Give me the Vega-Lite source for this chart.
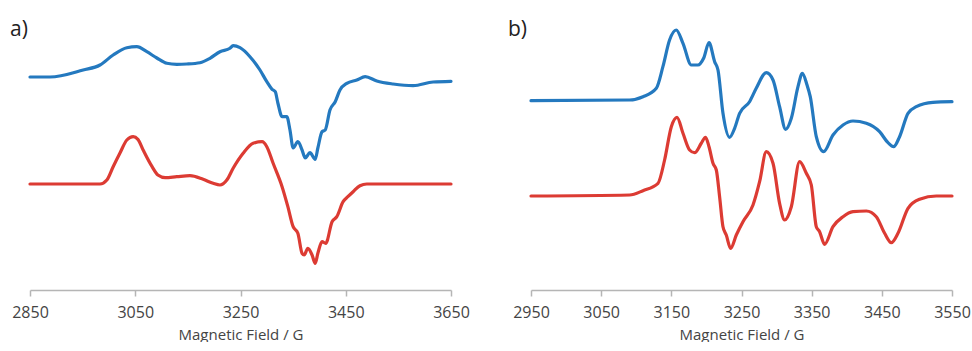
{
  "$schema": "https://vega.github.io/schema/vega-lite/v6.json",
  "padding": {"left": 10, "top": 19, "right": 5, "bottom": 0},
  "background": "white",
  "config": {
    "view": {"stroke": null},
    "font": "Open Sans",
    "axis": {"grid": false}
  },
  "spacing": 80,
  "bounds": "flush",
  "datasets": {
    "spectra": [
      {"panel":"a","series":"blue","field":2850,"signal":213},
      {"panel":"a","series":"blue","field":2888,"signal":213},
      {"panel":"a","series":"blue","field":2951,"signal":220},
      {"panel":"a","series":"blue","field":2983,"signal":225},
      {"panel":"a","series":"blue","field":3008,"signal":235},
      {"panel":"a","series":"blue","field":3034,"signal":242.3},
      {"panel":"a","series":"blue","field":3053,"signal":243.3},
      {"panel":"a","series":"blue","field":3072,"signal":238.3},
      {"panel":"a","series":"blue","field":3091,"signal":232},
      {"panel":"a","series":"blue","field":3110,"signal":226.7},
      {"panel":"a","series":"blue","field":3129,"signal":225.7},
      {"panel":"a","series":"blue","field":3148,"signal":226},
      {"panel":"a","series":"blue","field":3173,"signal":227.3},
      {"panel":"a","series":"blue","field":3192,"signal":231.7},
      {"panel":"a","series":"blue","field":3211,"signal":238.3},
      {"panel":"a","series":"blue","field":3230,"signal":241.7},
      {"panel":"a","series":"blue","field":3236,"signal":244.3},
      {"panel":"a","series":"blue","field":3249,"signal":242.3},
      {"panel":"a","series":"blue","field":3268,"signal":233.3},
      {"panel":"a","series":"blue","field":3287,"signal":220},
      {"panel":"a","series":"blue","field":3300,"signal":208.3},
      {"panel":"a","series":"blue","field":3310,"signal":200.7},
      {"panel":"a","series":"blue","field":3316,"signal":198.3},
      {"panel":"a","series":"blue","field":3321,"signal":187},
      {"panel":"a","series":"blue","field":3329,"signal":173.3},
      {"panel":"a","series":"blue","field":3338,"signal":173.3},
      {"panel":"a","series":"blue","field":3344,"signal":160},
      {"panel":"a","series":"blue","field":3350,"signal":142},
      {"panel":"a","series":"blue","field":3359,"signal":148.3},
      {"panel":"a","series":"blue","field":3367,"signal":140},
      {"panel":"a","series":"blue","field":3373,"signal":132},
      {"panel":"a","series":"blue","field":3382,"signal":137.3},
      {"panel":"a","series":"blue","field":3392,"signal":130.7},
      {"panel":"a","series":"blue","field":3397,"signal":142},
      {"panel":"a","series":"blue","field":3405,"signal":158.3},
      {"panel":"a","series":"blue","field":3411,"signal":160},
      {"panel":"a","series":"blue","field":3420,"signal":180},
      {"panel":"a","series":"blue","field":3430,"signal":188.3},
      {"panel":"a","series":"blue","field":3439,"signal":200},
      {"panel":"a","series":"blue","field":3452,"signal":206.7},
      {"panel":"a","series":"blue","field":3471,"signal":210},
      {"panel":"a","series":"blue","field":3487,"signal":213.3},
      {"panel":"a","series":"blue","field":3509,"signal":209},
      {"panel":"a","series":"blue","field":3540,"signal":206},
      {"panel":"a","series":"blue","field":3578,"signal":204.3},
      {"panel":"a","series":"blue","field":3616,"signal":208},
      {"panel":"a","series":"blue","field":3650,"signal":208.7},

      {"panel":"a","series":"red","field":2850,"signal":106},
      {"panel":"a","series":"red","field":2983,"signal":106},
      {"panel":"a","series":"red","field":2996,"signal":110},
      {"panel":"a","series":"red","field":3008,"signal":123.3},
      {"panel":"a","series":"red","field":3021,"signal":137},
      {"panel":"a","series":"red","field":3034,"signal":150},
      {"panel":"a","series":"red","field":3046,"signal":153.3},
      {"panel":"a","series":"red","field":3055,"signal":150.7},
      {"panel":"a","series":"red","field":3065,"signal":140},
      {"panel":"a","series":"red","field":3082,"signal":123.3},
      {"panel":"a","series":"red","field":3093,"signal":115},
      {"panel":"a","series":"red","field":3107,"signal":112.3},
      {"panel":"a","series":"red","field":3129,"signal":113.3},
      {"panel":"a","series":"red","field":3154,"signal":114.3},
      {"panel":"a","series":"red","field":3179,"signal":110.7},
      {"panel":"a","series":"red","field":3198,"signal":106.7},
      {"panel":"a","series":"red","field":3211,"signal":105},
      {"panel":"a","series":"red","field":3224,"signal":110},
      {"panel":"a","series":"red","field":3236,"signal":121.7},
      {"panel":"a","series":"red","field":3255,"signal":136.7},
      {"panel":"a","series":"red","field":3274,"signal":146.7},
      {"panel":"a","series":"red","field":3291,"signal":148.3},
      {"panel":"a","series":"red","field":3300,"signal":143.3},
      {"panel":"a","series":"red","field":3312,"signal":126.7},
      {"panel":"a","series":"red","field":3329,"signal":103.3},
      {"panel":"a","series":"red","field":3340,"signal":83.3},
      {"panel":"a","series":"red","field":3350,"signal":63.3},
      {"panel":"a","series":"red","field":3359,"signal":56.7},
      {"panel":"a","series":"red","field":3367,"signal":36.7},
      {"panel":"a","series":"red","field":3371,"signal":35},
      {"panel":"a","series":"red","field":3378,"signal":41.7},
      {"panel":"a","series":"red","field":3386,"signal":35},
      {"panel":"a","series":"red","field":3392,"signal":26.7},
      {"panel":"a","series":"red","field":3397,"signal":36.7},
      {"panel":"a","series":"red","field":3405,"signal":48.3},
      {"panel":"a","series":"red","field":3412,"signal":46.7},
      {"panel":"a","series":"red","field":3424,"signal":68.3},
      {"panel":"a","series":"red","field":3433,"signal":73.3},
      {"panel":"a","series":"red","field":3445,"signal":88.3},
      {"panel":"a","series":"red","field":3454,"signal":93.3},
      {"panel":"a","series":"red","field":3464,"signal":98.3},
      {"panel":"a","series":"red","field":3477,"signal":104.3},
      {"panel":"a","series":"red","field":3490,"signal":106},
      {"panel":"a","series":"red","field":3650,"signal":106},

      {"panel":"b","series":"blue","field":2950,"signal":189.3},
      {"panel":"b","series":"blue","field":3090.5,"signal":190},
      {"panel":"b","series":"blue","field":3109.6,"signal":193.3},
      {"panel":"b","series":"blue","field":3128.6,"signal":201.7},
      {"panel":"b","series":"blue","field":3138,"signal":223.3},
      {"panel":"b","series":"blue","field":3147.5,"signal":250},
      {"panel":"b","series":"blue","field":3157,"signal":260},
      {"panel":"b","series":"blue","field":3166.6,"signal":246.7},
      {"panel":"b","series":"blue","field":3178.5,"signal":225},
      {"panel":"b","series":"blue","field":3188,"signal":225},
      {"panel":"b","series":"blue","field":3196,"signal":231.7},
      {"panel":"b","series":"blue","field":3203.7,"signal":247.3},
      {"panel":"b","series":"blue","field":3211.7,"signal":228.3},
      {"panel":"b","series":"blue","field":3216.5,"signal":220},
      {"panel":"b","series":"blue","field":3223.6,"signal":176.7},
      {"panel":"b","series":"blue","field":3233,"signal":152.7},
      {"panel":"b","series":"blue","field":3240.2,"signal":161.7},
      {"panel":"b","series":"blue","field":3247.3,"signal":176.7},
      {"panel":"b","series":"blue","field":3261.5,"signal":188.3},
      {"panel":"b","series":"blue","field":3271,"signal":201.7},
      {"panel":"b","series":"blue","field":3285.3,"signal":217.3},
      {"panel":"b","series":"blue","field":3294.9,"signal":210},
      {"panel":"b","series":"blue","field":3304.3,"signal":183.3},
      {"panel":"b","series":"blue","field":3312.9,"signal":160.7},
      {"panel":"b","series":"blue","field":3321,"signal":171.7},
      {"panel":"b","series":"blue","field":3330.5,"signal":203.3},
      {"panel":"b","series":"blue","field":3336.7,"signal":216.7},
      {"panel":"b","series":"blue","field":3343.4,"signal":205},
      {"panel":"b","series":"blue","field":3348,"signal":193.3},
      {"panel":"b","series":"blue","field":3356.6,"signal":153.3},
      {"panel":"b","series":"blue","field":3367,"signal":138.3},
      {"panel":"b","series":"blue","field":3380.4,"signal":155},
      {"panel":"b","series":"blue","field":3394.7,"signal":165},
      {"panel":"b","series":"blue","field":3408.9,"signal":169},
      {"panel":"b","series":"blue","field":3427.9,"signal":166.7},
      {"panel":"b","series":"blue","field":3446.8,"signal":158.3},
      {"panel":"b","series":"blue","field":3458.8,"signal":147.3},
      {"panel":"b","series":"blue","field":3466.8,"signal":143.3},
      {"panel":"b","series":"blue","field":3475.3,"signal":153.3},
      {"panel":"b","series":"blue","field":3487.3,"signal":176.7},
      {"panel":"b","series":"blue","field":3499.1,"signal":183.3},
      {"panel":"b","series":"blue","field":3522.9,"signal":187.7},
      {"panel":"b","series":"blue","field":3550,"signal":188.3},

      {"panel":"b","series":"red","field":2950,"signal":94},
      {"panel":"b","series":"red","field":3090.5,"signal":95},
      {"panel":"b","series":"red","field":3109.6,"signal":99.3},
      {"panel":"b","series":"red","field":3131,"signal":106.7},
      {"panel":"b","series":"red","field":3140.4,"signal":130},
      {"panel":"b","series":"red","field":3150,"signal":163.3},
      {"panel":"b","series":"red","field":3158.1,"signal":172.7},
      {"panel":"b","series":"red","field":3166.6,"signal":156.7},
      {"panel":"b","series":"red","field":3176,"signal":140},
      {"panel":"b","series":"red","field":3183.2,"signal":137.3},
      {"panel":"b","series":"red","field":3192.7,"signal":146.7},
      {"panel":"b","series":"red","field":3198.8,"signal":152.7},
      {"panel":"b","series":"red","field":3203.7,"signal":143.3},
      {"panel":"b","series":"red","field":3209.4,"signal":126.7},
      {"panel":"b","series":"red","field":3214.1,"signal":120},
      {"panel":"b","series":"red","field":3218.8,"signal":93.3},
      {"panel":"b","series":"red","field":3223.6,"signal":63.3},
      {"panel":"b","series":"red","field":3228.3,"signal":55},
      {"panel":"b","series":"red","field":3234.5,"signal":41.7},
      {"panel":"b","series":"red","field":3242.6,"signal":55},
      {"panel":"b","series":"red","field":3252.1,"signal":68.3},
      {"panel":"b","series":"red","field":3266.4,"signal":85},
      {"panel":"b","series":"red","field":3275.8,"signal":108.3},
      {"panel":"b","series":"red","field":3285.3,"signal":138.3},
      {"panel":"b","series":"red","field":3294.9,"signal":126.7},
      {"panel":"b","series":"red","field":3304.3,"signal":86.7},
      {"panel":"b","series":"red","field":3311.4,"signal":70},
      {"panel":"b","series":"red","field":3321,"signal":83.3},
      {"panel":"b","series":"red","field":3332.8,"signal":128.3},
      {"panel":"b","series":"red","field":3342.4,"signal":116.7},
      {"panel":"b","series":"red","field":3349.5,"signal":105},
      {"panel":"b","series":"red","field":3356.6,"signal":63.3},
      {"panel":"b","series":"red","field":3361.3,"signal":58.3},
      {"panel":"b","series":"red","field":3368.4,"signal":45.7},
      {"panel":"b","series":"red","field":3380.4,"signal":63.3},
      {"panel":"b","series":"red","field":3394.7,"signal":73.3},
      {"panel":"b","series":"red","field":3408.9,"signal":78.3},
      {"panel":"b","series":"red","field":3427.9,"signal":79},
      {"panel":"b","series":"red","field":3442.1,"signal":73.3},
      {"panel":"b","series":"red","field":3454,"signal":56.7},
      {"panel":"b","series":"red","field":3463.5,"signal":47.3},
      {"panel":"b","series":"red","field":3473,"signal":56.7},
      {"panel":"b","series":"red","field":3487.3,"signal":81.7},
      {"panel":"b","series":"red","field":3503.8,"signal":90.7},
      {"panel":"b","series":"red","field":3527.6,"signal":94},
      {"panel":"b","series":"red","field":3550,"signal":94}
    ]
  },
  "data": {"name": "spectra"},
  "hconcat": [
    {
      "width": 421,
      "height": 270,
      "title": {"text": "a)", "anchor": "start", "frame": "group", "fontSize": 21, "fontWeight": "normal", "color": "#222222", "dx": -20, "offset": -20},
      "transform": [{"filter": "datum.panel === 'a'"}],
      "mark": {"type": "line", "strokeWidth": 3.2, "interpolate": "monotone", "strokeCap": "round", "strokeJoin": "round"},
      "encoding": {
        "x": {"field": "field", "type": "quantitative",
              "scale": {"domain": [2850, 3650], "nice": false, "zero": false},
              "axis": {"values": [2850, 3050, 3250, 3450, 3650], "title": "Magnetic Field / G", "format": "d", "labelFlush": false,
                       "domainColor": "#b5b5b5", "tickColor": "#b5b5b5", "tickSize": 6, "domainWidth": 1.5, "tickWidth": 1.5,
                       "labelFont": "Open Sans", "labelFontSize": 16, "labelColor": "#444444", "labelPadding": 8,
                       "titleFont": "Open Sans", "titleFontSize": 15, "titleFontWeight": "normal", "titleColor": "#444444", "titlePadding": 7}},
        "y": {"field": "signal", "type": "quantitative", "scale": {"domain": [0, 270], "nice": false}, "axis": null},
        "color": {"field": "series", "type": "nominal", "scale": {"domain": ["blue", "red"], "range": ["#2479bf", "#dc3b33"]}, "legend": null}
      }
    },
    {
      "width": 421,
      "height": 270,
      "title": {"text": "b)", "anchor": "start", "frame": "group", "fontSize": 21, "fontWeight": "normal", "color": "#222222", "dx": -23, "offset": -20},
      "transform": [{"filter": "datum.panel === 'b'"}],
      "mark": {"type": "line", "strokeWidth": 3.2, "interpolate": "monotone", "strokeCap": "round", "strokeJoin": "round"},
      "encoding": {
        "x": {"field": "field", "type": "quantitative",
              "scale": {"domain": [2950, 3550], "nice": false, "zero": false},
              "axis": {"values": [2950, 3050, 3150, 3250, 3350, 3450, 3550], "title": "Magnetic Field / G", "format": "d", "labelFlush": false,
                       "domainColor": "#b5b5b5", "tickColor": "#b5b5b5", "tickSize": 6, "domainWidth": 1.5, "tickWidth": 1.5,
                       "labelFont": "Open Sans", "labelFontSize": 16, "labelColor": "#444444", "labelPadding": 8,
                       "titleFont": "Open Sans", "titleFontSize": 15, "titleFontWeight": "normal", "titleColor": "#444444", "titlePadding": 7}},
        "y": {"field": "signal", "type": "quantitative", "scale": {"domain": [0, 270], "nice": false}, "axis": null},
        "color": {"field": "series", "type": "nominal", "scale": {"domain": ["blue", "red"], "range": ["#2479bf", "#dc3b33"]}, "legend": null}
      }
    }
  ],
  "resolve": {"scale": {"x": "independent", "color": "shared"}}
}
